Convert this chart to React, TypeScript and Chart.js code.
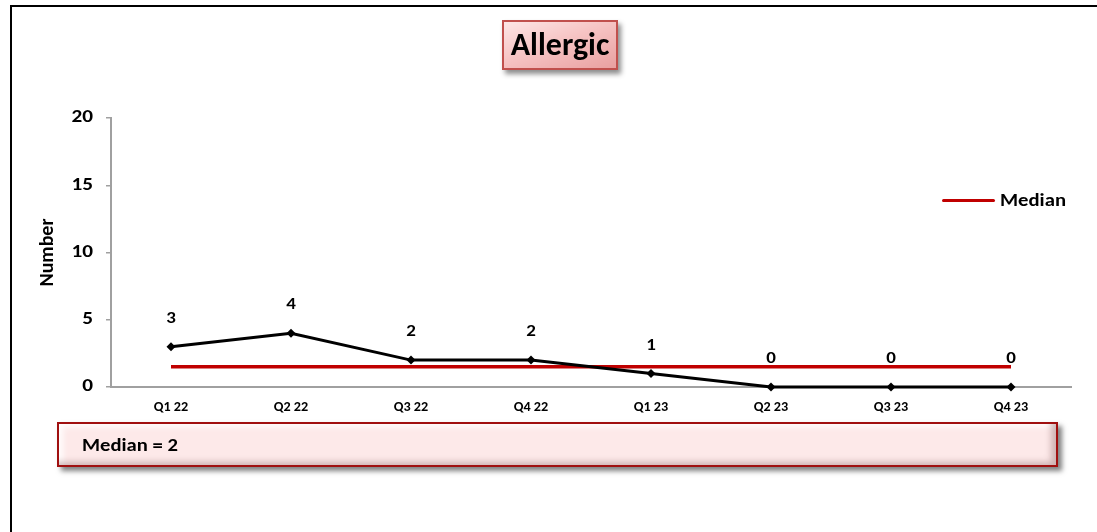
import React, { useEffect, useRef } from "react";
import { Chart, registerables } from "chart.js";

Chart.register(...registerables);

const categories = ["Q1 22", "Q2 22", "Q3 22", "Q4 22", "Q1 23", "Q2 23", "Q3 23", "Q4 23"];
const allergicValues = [3, 4, 2, 2, 1, 0, 0, 0];
const medianValues = [1.5, 1.5, 1.5, 1.5, 1.5, 1.5, 1.5, 1.5];
const yTicks = [0, 5, 10, 15, 20];
const titleText = "Allergic";
const medianText = "Median = 2";
const legendText = "Median";
const yTitle = "Number";

const FONT = "Calibri, Carlito, Lato, 'Liberation Sans', Arial, sans-serif";

function drawStretched(ctx: any, text: string, x: number, y: number, sx: number, align: string) {
  ctx.save();
  ctx.translate(x, y);
  ctx.scale(sx, 1);
  ctx.textAlign = align;
  ctx.fillText(text, 0, 0);
  ctx.restore();
}

const textPlugin = {
  id: "customText",
  afterDraw(chart: any) {
    const ctx = chart.ctx;
    const { chartArea } = chart;
    const xs = chart.scales.x;
    const ys = chart.scales.y;
    ctx.save();
    ctx.fillStyle = "#000";
    ctx.textBaseline = "middle";

    // y tick labels
    ctx.font = `bold 17px ${FONT}`;
    yTicks.forEach((v) => {
      drawStretched(ctx, String(v), chartArea.left - 18, ys.getPixelForValue(v), 1.25, "right");
    });

    // x tick labels
    ctx.font = `bold 13.5px ${FONT}`;
    categories.forEach((c, i) => {
      drawStretched(ctx, c, xs.getPixelForTick(i), chartArea.bottom + 21, 1.05, "center");
    });

    // y axis title
    ctx.font = `bold 20px ${FONT}`;
    ctx.save();
    ctx.translate(48, (chartArea.top + chartArea.bottom) / 2);
    ctx.rotate(-Math.PI / 2);
    ctx.textAlign = "center";
    ctx.fillText(yTitle, 0, 0);
    ctx.restore();

    // data labels
    ctx.font = `bold 16.5px ${FONT}`;
    const idx = chart.data.datasets.findIndex((d: any) => d.label === "Allergic");
    const meta = chart.getDatasetMeta(idx);
    meta.data.forEach((pt: any, i: number) => {
      drawStretched(ctx, String(allergicValues[i]), pt.x, pt.y - 28, 1.15, "center");
    });
    ctx.restore();
  },
};

export default function App() {
  const ref = useRef<HTMLCanvasElement>(null);
  useEffect(() => {
    if (!ref.current) return;
    const chart = new Chart(ref.current, {
      type: "line",
      data: {
        labels: categories,
        datasets: [
          {
            label: "Median",
            data: medianValues,
            borderColor: "#c00000",
            borderWidth: 3.5,
            pointRadius: 0,
            tension: 0,
            clip: false,
            order: 2,
          },
          {
            label: "Allergic",
            data: allergicValues,
            borderColor: "#000",
            backgroundColor: "#000",
            borderWidth: 3,
            pointStyle: "rectRot",
            pointRadius: 4.5,
            pointBackgroundColor: "#000",
            pointBorderColor: "#000",
            pointBorderWidth: 0,
            tension: 0,
            clip: false,
            order: 1,
          },
        ],
      },
      options: {
        animation: false,
        responsive: false,
        maintainAspectRatio: false,
        layout: { padding: { left: 51, right: 26, top: 118, bottom: 0 } },
        plugins: {
          legend: { display: false },
          title: { display: false },
          tooltip: { enabled: false },
        },
        scales: {
          x: {
            type: "category",
            offset: true,
            grid: { display: false },
            border: { display: true, color: "#a0a0a0", width: 2 },
            ticks: { display: false },
            afterFit(scale: any) {
              scale.height = 145;
            },
          },
          y: {
            min: 0,
            max: 20,
            afterBuildTicks(scale: any) {
              scale.ticks = yTicks.map((v) => ({ value: v }));
            },
            grid: {
              display: true,
              drawOnChartArea: false,
              drawTicks: true,
              tickLength: 5,
              color: "#a0a0a0",
              lineWidth: 1.5,
            },
            border: { display: true, color: "#a0a0a0", width: 2 },
            ticks: { display: false },
            title: { display: false },
            afterFit(scale: any) {
              scale.width = 60;
            },
          },
        },
      },
      plugins: [textPlugin],
    });
    return () => chart.destroy();
  }, []);

  return (
    <div
      style={{
        position: "fixed",
        left: 0,
        top: 0,
        width: 1097,
        height: 532,
        overflow: "hidden",
        background: "#fff",
        fontFamily: FONT,
      }}
    >
      <div
        style={{
          position: "absolute",
          left: 10,
          top: 5,
          width: 1100,
          height: 540,
          border: "2px solid #000",
          boxSizing: "border-box",
        }}
      />
      <canvas ref={ref} width={1097} height={532} style={{ position: "absolute", left: 0, top: 0 }} />
      <div
        style={{
          position: "absolute",
          left: 502,
          top: 20,
          width: 116,
          height: 50,
          boxSizing: "border-box",
          border: "2px solid #c0504d",
          background: "linear-gradient(160deg, #fde6e6 0%, #f6c4c4 45%, #e9a0a0 100%)",
          boxShadow: "3px 4px 5px rgba(0,0,0,0.45)",
          display: "flex",
          alignItems: "center",
          justifyContent: "center",
          fontWeight: "bold",
          fontSize: 32,
          color: "#000",
          lineHeight: 1,
        }}
      >
        {titleText}
      </div>
      <div
        style={{
          position: "absolute",
          left: 942,
          top: 198.5,
          width: 53,
          height: 3.5,
          background: "#c00000",
          borderRadius: 2,
        }}
      />
      <div
        style={{
          position: "absolute",
          left: 1000,
          top: 189,
          fontWeight: "bold",
          fontSize: 18,
          color: "#000",
          transform: "scaleX(1.15)",
          transformOrigin: "left center",
          lineHeight: "22px",
        }}
      >
        {legendText}
      </div>
      <div
        style={{
          position: "absolute",
          left: 57,
          top: 422,
          width: 1001,
          height: 45,
          boxSizing: "border-box",
          border: "2px solid #a01010",
          background: "#fde9e9",
          boxShadow:
            "inset -9px -7px 6px -4px rgba(120,80,80,0.35), inset 8px 7px 6px -4px rgba(255,255,255,0.9), 4px 4px 5px rgba(0,0,0,0.5)",
        }}
      >
        <div
          style={{
            position: "absolute",
            left: 23,
            top: 10,
            fontWeight: "bold",
            fontSize: 17.5,
            lineHeight: "22px",
            color: "#000",
            transform: "scaleX(1.18)",
            transformOrigin: "left center",
            whiteSpace: "nowrap",
          }}
        >
          {medianText}
        </div>
      </div>
    </div>
  );
}
